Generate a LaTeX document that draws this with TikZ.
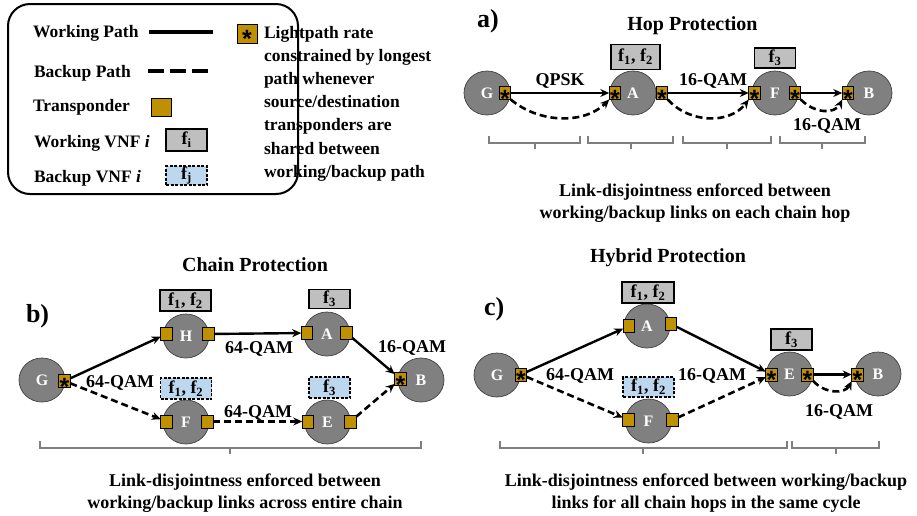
\documentclass[tikz,border=0pt]{standalone}
\usepackage{fontspec}
\setmainfont{Liberation Serif}
\newfontfamily\astfont{Liberation Sans}
\usetikzlibrary{arrows.meta,shapes.geometric}
\definecolor{tpcol}{HTML}{BF9000}
\definecolor{ndcol}{HTML}{808080}
\definecolor{ndline}{HTML}{404040}
\definecolor{vgray}{HTML}{BFBFBF}
\definecolor{vblue}{HTML}{BDD7EE}
\definecolor{brcol}{HTML}{7F7F7F}
\newcommand{\astk}{\smash{\raisebox{-14.2pt}{\astfont\bfseries\fontsize{25}{25}\selectfont *}}}
\newcommand{\hbrk}[4]{\draw[brk] (#1,#4-7) -- (#1,#4) -- (#2,#4) -- (#2,#4-7); \draw[brk] (#3,#4) -- (#3,#4+6);}
\begin{document}
\begin{tikzpicture}[x=1pt,y=-1pt,
 every node/.style={inner sep=0pt, outer sep=0pt, font=\bfseries\fontsize{18}{22}\selectfont},
 nd/.style={ellipse, draw=ndline, line width=0.7pt, fill=ndcol, minimum width=46pt, minimum height=44pt, text=white, font=\bfseries\fontsize{16}{18}\selectfont},
 tr/.style={rectangle, draw=black, line width=0.6pt, fill=tpcol, minimum width=11.5pt, minimum height=13pt},
 wv/.style={rectangle, draw=black, line width=1.4pt, fill=vgray, minimum height=20pt},
 bv/.style={rectangle, draw=black, line width=1.4pt, fill=vblue, dash pattern=on 3pt off 1.5pt, minimum height=20pt},
 work/.style={line width=2.4pt, -{Stealth[length=9pt,width=8pt]}},
 back/.style={line width=2.6pt, dash pattern=on 7pt off 4pt, -{Stealth[length=9pt,width=8pt]}},
 brk/.style={draw=brcol, line width=1.6pt},
 lbl/.style={font=\bfseries\fontsize{18}{20}\selectfont, anchor=base},
 ttl/.style={font=\bfseries\fontsize{20}{22}\selectfont, anchor=base},
 pl/.style={font=\bfseries\fontsize{26}{28}\selectfont, anchor=base west},
 note/.style={font=\bfseries\fontsize{18}{22}\selectfont, anchor=base},
 leg/.style={font=\bfseries\fontsize{17.5}{20}\selectfont, anchor=base west},
]
\useasboundingbox[fill=white] (0,0) rectangle (917,515);

% ---------------- Legend ----------------
\draw[line width=2pt, rounded corners=22pt] (8,4) rectangle (298,194);
\node[leg] (lwp) at (33,37) {Working Path};
\draw[line width=4.5pt] (149,32) -- (213,32);
\node[leg] (lbp) at (34,77) {Backup Path};
\draw[line width=4.5pt, dash pattern=on 16pt off 6pt] (148,71) -- (210,71);
\node[leg] (ltp) at (33,111) {Transponder};
\node[tr, minimum width=20pt, minimum height=18pt] (ltpbox) at (161,107) {};
\node[leg] (lwv) at (34,147) {Working VNF \textit{i}};
\node[wv, minimum width=41pt, minimum height=22pt] (lwvbox) at (186.5,140) {f\textsubscript{i}};
\node[leg] (lbv) at (34,182) {Backup VNF \textit{i}};
\node[bv, minimum width=41pt, minimum height=19pt] (lbvbox) at (186.5,175.5) {f\textsubscript{j}};
\node[tr, minimum width=20pt, minimum height=19pt] (lstar) at (247,33.5) {\astk};
\node[leg] (lt1) at (264,38) {Lightpath rate};
\node[leg] (lt2) at (264,61.2) {constrained by longest};
\node[leg] (lt3) at (264,84.4) {path whenever};
\node[leg] (lt4) at (264,107.6) {source/destination};
\node[leg] (lt5) at (264,130.8) {transponders are};
\node[leg] (lt6) at (264,154) {shared between};
\node[leg] (lt7) at (264,177.2) {working/backup path};

% ---------------- Panel a ----------------
\node[pl] (pa) at (477,27) {a)};
\node[ttl] (ta) at (692.5,30) {Hop Protection};
\node[nd] (aG) at (487,93) {G};
\node[nd] (aA) at (633,93) {A};
\node[nd] (aF) at (775,93) {F};
\node[nd] (aB) at (869,93) {B};
\node[tr] (aGt) at (505,93) {\astk};
\node[tr] (aAl) at (615,93) {\astk};
\node[tr] (aAr) at (662,93) {\astk};
\node[tr] (aFl) at (754.5,93) {\astk};
\node[tr] (aFr) at (795,93) {\astk};
\node[tr] (aBl) at (848,93) {\astk};
\node[wv, minimum width=49pt, minimum height=25pt] (aV1) at (635.5,57) {f\textsubscript{1}, f\textsubscript{2}};
\node[wv, minimum width=41pt, minimum height=20pt] (aV2) at (775,58) {f\textsubscript{3}};
\draw[work] (aGt) -- (aAl);
\draw[work] (aAr) -- (aFl);
\draw[work] (aFr) -- (aBl);
\draw[back] (aGt.south east) .. controls (540,124) and (585,124) .. (aAl.south west);
\draw[back] (aAr.south east) .. controls (690,124) and (730,124) .. (aFl.south west);
\draw[back] (aFr.south east) .. controls (815,114) and (835,114) .. (aBl.south west);
\node[lbl] (la1) at (560,85) {QPSK};
\node[lbl] (la2) at (713,85.5) {16-QAM};
\node[lbl] (la3) at (827,130) {16-QAM};
\hbrk{489}{580}{535}{143}
\hbrk{588}{673}{631}{143}
\hbrk{683}{771}{727}{143}
\hbrk{780}{865}{822}{143}
\node[note] (na1) at (695,196) {Link-disjointness enforced between};
\node[note] (na2) at (695,218) {working/backup links on each chain hop};

% ---------------- Panel b ----------------
\node[pl] (pb) at (26,322) {b)};
\node[ttl] (tb) at (255,271) {Chain Protection};
\node[nd] (bG) at (42,380) {G};
\node[nd] (bH) at (186,336) {H};
\node[nd] (bA) at (327,334) {A};
\node[nd] (bB) at (421,380) {B};
\node[nd] (bF) at (186,422) {F};
\node[nd] (bE) at (327.5,422) {E};
\node[tr] (bGt) at (64.5,381) {\astk};
\node[tr] (bHl) at (166.5,334) {};
\node[tr] (bHr) at (208.5,334) {};
\node[tr] (bAl) at (307,333) {};
\node[tr] (bAr) at (346.5,333) {};
\node[tr] (bBl) at (400.5,379) {\astk};
\node[tr] (bFl) at (166.5,421.5) {};
\node[tr] (bFr) at (207.5,421.5) {};
\node[tr] (bEl) at (308,421.5) {};
\node[tr] (bEr) at (350.5,421.5) {};
\node[wv, minimum width=51pt, minimum height=21pt] (bV1) at (185.5,300.5) {f\textsubscript{1}, f\textsubscript{2}};
\node[wv, minimum width=41pt, minimum height=19pt] (bV2) at (329.5,299) {f\textsubscript{3}};
\node[bv, minimum width=51pt, minimum height=21pt] (bV3) at (186,388.5) {f\textsubscript{1}, f\textsubscript{2}};
\node[bv, minimum width=41pt, minimum height=21pt] (bV4) at (329.5,387.5) {f\textsubscript{3}};
\draw[work] (bGt) -- (bHl);
\draw[work] (bHr) -- (bAl);
\draw[work] (bAr) -- (bBl);
\draw[back] (bGt) -- (bFl);
\draw[back] (bFr) -- (bEl);
\draw[back] (bEr) -- (bBl);
\node[lbl] (lb1) at (120,387) {64-QAM};
\node[lbl] (lb2) at (259,353) {64-QAM};
\node[lbl] (lb3) at (412,352) {16-QAM};
\node[lbl] (lb4) at (258,417) {64-QAM};
\hbrk{40}{421}{230}{448}
\node[note] (nb1) at (245,486) {Link-disjointness enforced between};
\node[note] (nb2) at (245,508) {working/backup links across entire chain};

% ---------------- Panel c ----------------
\node[pl] (pc) at (484,315) {c)};
\node[ttl] (tc) at (668,262) {Hybrid Protection};
\node[nd] (cG) at (497,375) {G};
\node[nd] (cA) at (647,326) {A};
\node[nd] (cE) at (789.5,374) {E};
\node[nd] (cB) at (878,374) {B};
\node[nd] (cF) at (648.5,421) {F};
\node[tr] (cGt) at (521,374.5) {\astk};
\node[tr] (cAl) at (629,326) {};
\node[tr] (cAr) at (671,324) {};
\node[tr] (cEl) at (771.5,374.5) {\astk};
\node[tr] (cEr) at (807.5,374.5) {\astk};
\node[tr] (cBl) at (857.5,374.5) {\astk};
\node[tr] (cFl) at (628.5,420) {};
\node[tr] (cFr) at (672.5,420) {};
\node[wv, minimum width=52pt, minimum height=21pt] (cV1) at (648,292.5) {f\textsubscript{1}, f\textsubscript{2}};
\node[wv, minimum width=41pt, minimum height=21pt] (cV2) at (791.5,339.5) {f\textsubscript{3}};
\node[bv, minimum width=51pt, minimum height=20pt] (cV3) at (648.5,387) {f\textsubscript{1}, f\textsubscript{2}};
\draw[work] (cGt) -- (cAl);
\draw[work] (cAr) -- (cEl);
\draw[work] (cEr) -- (cBl);
\draw[back] (cGt) -- (cFl);
\draw[back] (cFr) -- (cEl);
\draw[back] (cEr.south east) .. controls (825,394) and (845,394) .. (cBl.south west);
\node[lbl] (lc1) at (580,380) {64-QAM};
\node[lbl] (lc2) at (712,380) {16-QAM};
\node[lbl] (lc3) at (839,416) {16-QAM};
\hbrk{500}{787}{643}{448}
\hbrk{792}{879}{836}{448}
\node[note] (nc1) at (706,486) {Link-disjointness enforced between working/backup};
\node[note] (nc2) at (706,508) {links for all chain hops in the same cycle};
\end{tikzpicture}
\end{document}
